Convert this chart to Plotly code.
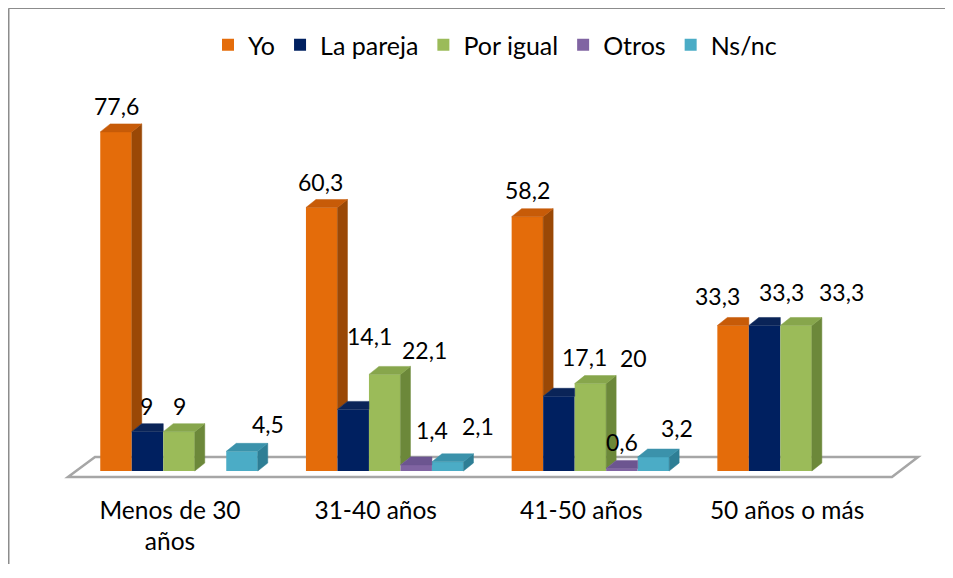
import plotly.graph_objects as go

# ---------------- data ----------------
categories = ["Menos de 30<br>años", "31-40 años", "41-50 años", "50 años o más"]
series_names = ["Yo", "La pareja", "Por igual", "Otros", "Ns/nc"]
yo = [77.6, 60.3, 58.2, 33.3]
la_pareja = [9, 14.1, 17.1, 33.3]
por_igual = [9, 22.1, 20, 33.3]
otros = [None, 1.4, 0.6, None]
ns_nc = [4.5, 2.1, 3.2, None]
values = [yo, la_pareja, por_igual, otros, ns_nc]

# ---------------- style ----------------
FONT = "Lato"
front = ["#E46C0A", "#002060", "#9BBB59", "#8064A2", "#4BACC6"]
side = ["#9A4806", "#00143C", "#6C883A", "#594476", "#2E7E95"]
top = ["#C75B08", "#0A2458", "#87A64C", "#6C5590", "#3B92AB"]

W, H = 945, 556           # page body has an 8px margin
PLOT_BOTTOM = 482         # pixel row of the x axis
X0_PX = 171               # pixel column of the first category centre
BASE_PX = 463             # pixel row of value 0
PX_PER_X = 205.7          # pixels per category unit
PX_PER_Y = 4.37           # pixels per value unit
bw = 31.5 / PX_PER_X      # bar width (x units)
dx = 10 / PX_PER_X        # depth offset x
dy = 8 / PX_PER_Y         # depth offset y
label_shift = -9 / PX_PER_X

# data-label pixel offsets (Excel 3D label placement)
lab_dx = [[0, -1, 0, -16], [-1, 16, 26, 17], [0, 40, 43, 45], [0, 16, 0, 0], [26, 30, 24, 0]]
lab_dy = [[26, 25, 27, 29], [26, 73, 39, 33], [26, 24, 26, 33], [0, 35, 26, 0], [27, 36, 29, 0]]

ns = len(series_names)
fig = go.Figure()

# front faces (bars)
for s in range(ns):
    xs = [g + (s - (ns - 1) / 2) * bw for g in range(len(categories))]
    fig.add_trace(go.Bar(
        x=xs, y=values[s], width=bw, name=series_names[s],
        marker=dict(color=front[s], line=dict(width=0)),
        hoverinfo="skip",
    ))

# 3D side and top faces
for s in range(ns):
    sx, sy, tx, ty = [], [], [], []
    for g in range(len(categories)):
        v = values[s][g]
        if v is None:
            continue
        xl = g + (s - ns / 2) * bw
        xr = xl + bw
        nv = values[s + 1][g] if s + 1 < ns else None
        nv = 0 if nv is None else nv
        if nv < v:
            sx += [xr, xr + dx, xr + dx, xr, xr, None]
            sy += [nv, nv + dy, v + dy, v, nv, None]
            tx += [xl, xl + dx, xr + dx, xr, xl, None]
            ty += [v, v + dy, v + dy, v, v, None]
        else:
            tx += [xl, xl + dx, xr, xr, xl, None]
            ty += [v, v + dy, v + dy, v, v, None]
    if sx:
        fig.add_trace(go.Scatter(x=sx, y=sy, mode="lines", fill="toself",
                                 fillcolor=side[s], line=dict(color=side[s], width=0.5),
                                 showlegend=False, hoverinfo="skip"))
    fig.add_trace(go.Scatter(x=tx, y=ty, mode="lines", fill="toself",
                             fillcolor=top[s], line=dict(color=top[s], width=0.5),
                             showlegend=False, hoverinfo="skip"))

# data labels
def fmt(v):
    return ("%g" % v).replace(".", ",")

for s in range(ns):
    for g in range(len(categories)):
        v = values[s][g]
        if v is None:
            continue
        fig.add_annotation(x=g + (s - (ns - 1) / 2) * bw, y=v, text=fmt(v),
                           showarrow=False, xshift=lab_dx[s][g], yshift=lab_dy[s][g],
                           xanchor="center", yanchor="middle",
                           font=dict(family=FONT, size=23, color="#000000"))

# floor (3D base plane)
x_front_l = -0.5396
x_front_r = 3.466
x_back_r = 3.593
x_back_l = -0.4084
y_front = -6 / PX_PER_Y
y_back = 14 / PX_PER_Y
fig.add_shape(type="path", xref="x", yref="y", layer="below",
              path=f"M{x_front_l},{y_front} L{x_front_r},{y_front} L{x_back_r},{y_back} L{x_back_l},{y_back} Z",
              line=dict(color="#A6A6A6", width=2.5), fillcolor="#FFFFFF")

# chart border (only top and left edges are visible in the crop)
top_y = (PLOT_BOTTOM - 0.25) / PLOT_BOTTOM
fig.add_shape(type="line", xref="paper", yref="paper", x0=0.75 / W, x1=1.0,
              y0=top_y, y1=top_y, line=dict(color="#8C8C8C", width=1.5), layer="below")
fig.add_shape(type="line", xref="paper", yref="paper", x0=0.75 / W, x1=0.75 / W,
              y0=top_y, y1=-0.3, line=dict(color="#8C8C8C", width=1.5), layer="below")

fig.update_layout(
    width=W, height=H,
    margin=dict(l=0, r=0, t=0, b=H - PLOT_BOTTOM, autoexpand=False),
    paper_bgcolor="#FFFFFF", plot_bgcolor="#FFFFFF",
    barmode="overlay",
    showlegend=True,
    legend=dict(orientation="h", x=487 / W, xanchor="center",
                y=(PLOT_BOTTOM - 37) / PLOT_BOTTOM, yanchor="middle",
                font=dict(family=FONT, size=25, color="#000000"),
                itemwidth=30, traceorder="normal", bgcolor="rgba(0,0,0,0)"),
    xaxis=dict(range=[-X0_PX / PX_PER_X, (W - X0_PX) / PX_PER_X],
               tickvals=[g + label_shift for g in range(len(categories))],
               ticktext=categories, tickfont=dict(family=FONT, size=24.5, color="#000000"),
               ticklabelstandoff=3,
               showgrid=False, zeroline=False, showline=False, ticks="", fixedrange=True),
    yaxis=dict(range=[-(PLOT_BOTTOM - BASE_PX) / PX_PER_Y, BASE_PX / PX_PER_Y],
               visible=False, fixedrange=True),
)

fig.write_html("out.html")
